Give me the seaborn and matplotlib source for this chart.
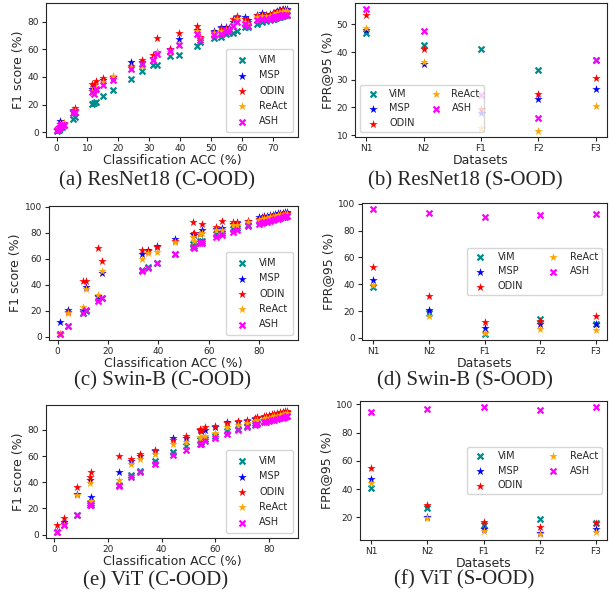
import numpy as np
import pandas as pd
import matplotlib
matplotlib.use("Agg")
import matplotlib.pyplot as plt
import seaborn as sns

sns.set_style("ticks")
plt.rcParams["font.family"] = ["DejaVu Sans"]

methods = ["ViM", "MSP", "ODIN", "ReAct", "ASH"]
colors = {"ViM": "darkcyan", "MSP": "blue", "ODIN": "red", "ReAct": "orange", "ASH": "magenta"}
markers = {"ViM": "x", "MSP": "*", "ODIN": "*", "ReAct": "*", "ASH": "x"}

# ---------------- C-OOD: classification accuracy vs F1 ----------------
acc_r18 = [0.3, 0.7, 1.2, 1.8, 2.5, 5.3, 6.0, 11.5, 12.0, 12.8, 15.2, 18.3, 24.0, 27.6, 31.2,
           32.6, 36.8, 39.6, 45.4, 46.5, 51.0, 53.3, 55.0, 56.0, 57.2, 58.5, 61.0, 62.0, 65.0,
           66.6, 68.0, 69.0, 70.0, 70.5, 71.0, 71.5, 72.0, 72.5, 73.0, 73.5, 74.0, 74.5]
f1_r18_vim = [1, 2, 3, 4, 5, 9.5, 11, 20.5, 21.5, 22, 26, 30.5, 38.5, 44, 48.5, 48.5, 55, 56, 62,
              65, 68, 69, 71, 71.5, 72, 73.5, 76, 76, 78, 80, 80.5, 81, 81.5, 82, 82.5, 83, 83,
              83.5, 84, 84, 84.5, 85]
f1_r18_msp = [2, 4, 8, 6, 6, 15.5, 16, 31.5, 30, 31, 38, 40, 50.5, 51, 54, 58, 60, 67.5, 74, 68,
              73, 76, 76, 75, 80, 83.5, 83, 81, 84.5, 86, 85, 85.5, 86.5, 86.5, 87, 87.5, 88, 88,
              88.5, 89, 89, 89]
f1_r18_odin = [2, 4, 6, 6, 6.5, 16, 17.5, 35, 34, 37, 39, 40, 48, 52, 55.5, 68, 60.5, 71.5, 76.5,
               69, 72.5, 75, 75.5, 75, 81.5, 84, 82, 80, 85, 85, 84.5, 85, 86, 86, 86.5, 87, 87.5,
               87.5, 88, 88.5, 88.5, 88.5]
f1_r18_react = [2.5, 4, 6, 6, 6.5, 15, 15.5, 30, 29, 32, 36, 40.5, 47, 48, 53, 58, 58, 64, 73, 68,
                72, 73, 74, 74, 78, 82, 80, 78, 83, 84, 83.5, 84, 85, 85, 85.5, 86, 86.5, 86.5, 87,
                87, 87.5, 87.5]
f1_r18_ash = [1.5, 3, 5, 5, 5, 14, 15, 29, 28, 31, 34, 37.5, 45.5, 49.5, 52.5, 56.5, 59, 63, 71,
              67, 70, 71, 73, 73, 77, 80, 78, 77, 81, 82, 81.5, 82, 82.5, 83, 83, 83.5, 84, 84,
              84.5, 84.5, 85, 85]

acc_swin = [1.1, 4.3, 10.0, 11.3, 16.0, 17.6, 33.5, 35.8, 39.3, 46.5, 53.8, 54.2, 56.4, 57.3, 63.0,
            65.2, 69.6, 71.2, 75.6, 80.0, 81.0, 82.0, 83.0, 84.5, 85.5, 86.5, 87.5, 88.5, 89.5,
            90.5, 91.0]
f1_swin_vim = [2, 8, 18, 20, 30, 30, 51, 54, 57, 64, 71, 70, 74, 74, 79, 80, 83, 84, 86, 89, 89.5,
               90, 90, 90.5, 91, 91.5, 92, 92, 92.5, 93, 93]
f1_swin_msp = [11.5, 20.5, 20.5, 38, 31, 49, 64, 67, 70, 75, 79, 78, 80, 82.5, 83, 84, 87, 87.5,
               89.5, 92, 92.5, 93, 93, 93.5, 94, 94.5, 95, 95, 95.5, 96, 96]
f1_swin_odin = [2, 19, 43, 43, 68, 58, 66.5, 66, 69, 74, 88, 80, 79, 87, 84.5, 89, 88, 88.5, 89,
                91, 91.5, 92, 92.5, 93, 93.5, 94, 94, 94.5, 95, 95, 95.5]
f1_swin_react = [2, 18.5, 23, 37, 32, 50.5, 59.5, 64.5, 65.5, 73, 77, 74, 79, 80, 82, 82, 86, 86,
                 88, 90, 90.5, 91, 91.5, 92, 92.5, 93, 93.5, 93.5, 94, 94.5, 94.5]
f1_swin_ash = [2, 8, 18, 20.5, 27.5, 30, 50.5, 53, 56.5, 63.5, 69, 68.5, 72, 72, 76.5, 78, 81, 82,
               85, 87, 87.5, 88, 88.5, 89.5, 90, 90.5, 91, 91.5, 92, 92.5, 93]

acc_vit = [1.2, 3.5, 8.3, 13.3, 13.8, 24.0, 28.6, 32.0, 37.4, 44.4, 49.0, 54.3, 54.6, 56.2, 60.0,
           64.5, 68.3, 71.7, 74.8, 75.4, 78.0, 79.0, 80.0, 81.0, 82.0, 83.0, 84.0, 85.0, 86.0, 86.5]
f1_vit_vim = [2, 7, 15, 24, 24, 38, 45.5, 49, 56, 63, 68, 72, 71, 73, 75.5, 79, 81, 83, 85, 85.5,
              87, 87.5, 88, 88.5, 89, 89.5, 90, 90.5, 91, 91]
f1_vit_msp = [2.5, 9.5, 31, 41.5, 29, 47.5, 56, 60, 64, 74, 74, 80, 79, 80, 82, 86, 86, 87, 88.5,
              89, 90, 90.5, 91, 91.5, 92, 92.5, 93, 93.5, 94, 94]
f1_vit_odin = [7, 13, 36.5, 44, 47.5, 60, 58, 62, 64.5, 72.5, 75.5, 81, 79, 82, 83, 85, 87, 87.5,
               89, 90, 90.5, 91, 91.5, 92, 92.5, 93, 93.5, 94, 94.5, 94.5]
f1_vit_react = [2, 7, 30, 39.5, 26, 41.5, 54, 58, 62, 69, 71, 75, 74, 75.5, 78, 82, 84, 85, 87,
                87.5, 88.5, 89, 89.5, 90, 90.5, 91, 91.5, 92, 92.5, 93]
f1_vit_ash = [2, 7, 15, 23, 23, 37.5, 44, 48, 54, 61, 65, 69.5, 69, 71.5, 73.5, 77, 80, 82, 84,
              84.5, 86, 86.5, 87, 87.5, 88, 88.5, 89, 89.5, 90, 90.5]

# ---------------- S-OOD: FPR@95 per dataset ----------------
datasets = ["N1", "N2", "F1", "F2", "F3"]
fpr_r18_vim = [47, 42.5, 41, 33.5, 37]
fpr_r18_msp = [48, 35.5, 18, 23, 26.5]
fpr_r18_odin = [53.5, 41, 19.5, 25, 30.5]
fpr_r18_react = [48.5, 36.5, 12.5, 11.5, 20.5]
fpr_r18_ash = [55.5, 47.5, 24.5, 16, 37]

fpr_swin_vim = [38, 18.5, 3, 14, 10]
fpr_swin_msp = [43, 21, 7, 10, 10]
fpr_swin_odin = [53, 31.5, 12, 12.5, 16.5]
fpr_swin_react = [39.5, 16.5, 3.5, 6.5, 6]
fpr_swin_ash = [96, 93, 90, 92, 92.5]

fpr_vit_vim = [41, 26.5, 14.5, 19, 16]
fpr_vit_msp = [47, 20.5, 12, 9, 11.5]
fpr_vit_odin = [55, 28.5, 16.5, 13.5, 16]
fpr_vit_react = [44.5, 19.5, 10.5, 8.5, 10]
fpr_vit_ash = [95, 96.5, 98, 96, 98]


def long_frame(xvals, series, xname, yname):
    rows = []
    for m, vals in zip(methods, series):
        for xv, yv in zip(xvals, vals):
            rows.append({xname: xv, yname: yv, "method": m})
    return pd.DataFrame(rows)


c_ood = [
    (acc_r18, [f1_r18_vim, f1_r18_msp, f1_r18_odin, f1_r18_react, f1_r18_ash], [0, 10, 20, 30, 40, 50, 60, 70]),
    (acc_swin, [f1_swin_vim, f1_swin_msp, f1_swin_odin, f1_swin_react, f1_swin_ash], [0, 20, 40, 60, 80]),
    (acc_vit, [f1_vit_vim, f1_vit_msp, f1_vit_odin, f1_vit_react, f1_vit_ash], [0, 20, 40, 60, 80]),
]
s_ood = [
    [fpr_r18_vim, fpr_r18_msp, fpr_r18_odin, fpr_r18_react, fpr_r18_ash],
    [fpr_swin_vim, fpr_swin_msp, fpr_swin_odin, fpr_swin_react, fpr_swin_ash],
    [fpr_vit_vim, fpr_vit_msp, fpr_vit_odin, fpr_vit_react, fpr_vit_ash],
]

W, H = 609, 594
fig = plt.figure(figsize=(W / 100, H / 100), dpi=100)


def box(l, t, r, b):
    return [l / W, 1 - b / H, (r - l) / W, (b - t) / H]


left_boxes = [box(46, 3, 298, 137), box(49, 206, 298, 340), box(46, 405, 298, 538)]
right_boxes = [box(355, 3, 607, 137), box(362, 203, 607, 340), box(360, 401, 607, 540)]
captions = [
    ((157, 181), "(a) ResNet18 (C-OOD)"), ((465, 181), "(b) ResNet18 (S-OOD)"),
    ((162, 381), "(c) Swin-B (C-OOD)"), ((465, 381), "(d) Swin-B (S-OOD)"),
    ((156, 581), "(e) ViT (C-OOD)"), ((464, 580), "(f) ViT (S-OOD)"),
]


def draw_points(ax, df, xname, yname):
    for m in methods:
        sub = df[df["method"] == m]
        if markers[m] == "x":
            sns.scatterplot(data=sub, x=xname, y=yname, ax=ax, marker="x", color=colors[m],
                            s=18, linewidth=1.6, label=m)
        else:
            sns.scatterplot(data=sub, x=xname, y=yname, ax=ax, marker="*", color=colors[m],
                            s=40, linewidth=0, label=m)


for i, (acc, series, xt) in enumerate(c_ood):
    ax = fig.add_axes(left_boxes[i])
    df = long_frame(acc, series, "acc", "f1")
    draw_points(ax, df, "acc", "f1")
    ax.set_xticks(xt)
    ax.set_xlabel("Classification ACC (%)", fontsize=9, labelpad=1)
    ax.set_ylabel("F1 score (%)", fontsize=9, labelpad=2)
    ax.tick_params(labelsize=6.5, length=3, pad=2)
    ax.legend(loc="lower right", fontsize=7, borderpad=0.6, labelspacing=0.55, handletextpad=0.8)

for i, series in enumerate(s_ood):
    ax = fig.add_axes(right_boxes[i])
    df = long_frame(list(range(len(datasets))), series, "pos", "fpr")
    draw_points(ax, df, "pos", "fpr")
    ax.set_xticks(range(len(datasets)))
    ax.set_xticklabels(datasets)
    ax.set_xlabel("Datasets", fontsize=9, labelpad=1)
    ax.set_ylabel("FPR@95 (%)", fontsize=9, labelpad=2)
    ax.tick_params(labelsize=6.5, length=3, pad=2)
    if i == 0:
        ax.legend(loc="lower left", ncol=2, fontsize=7, columnspacing=1.2, labelspacing=0.5,
                  handletextpad=0.6)
    else:
        ax.legend(loc="center right", ncol=2, fontsize=7, columnspacing=2.0, labelspacing=0.5,
                  handletextpad=0.8)

for (x, y), txt in captions:
    fig.text(x / W, 1 - y / H, txt, ha="center", va="center", fontsize=15,
             family="Liberation Serif")

fig.savefig("out.png", dpi=100)
